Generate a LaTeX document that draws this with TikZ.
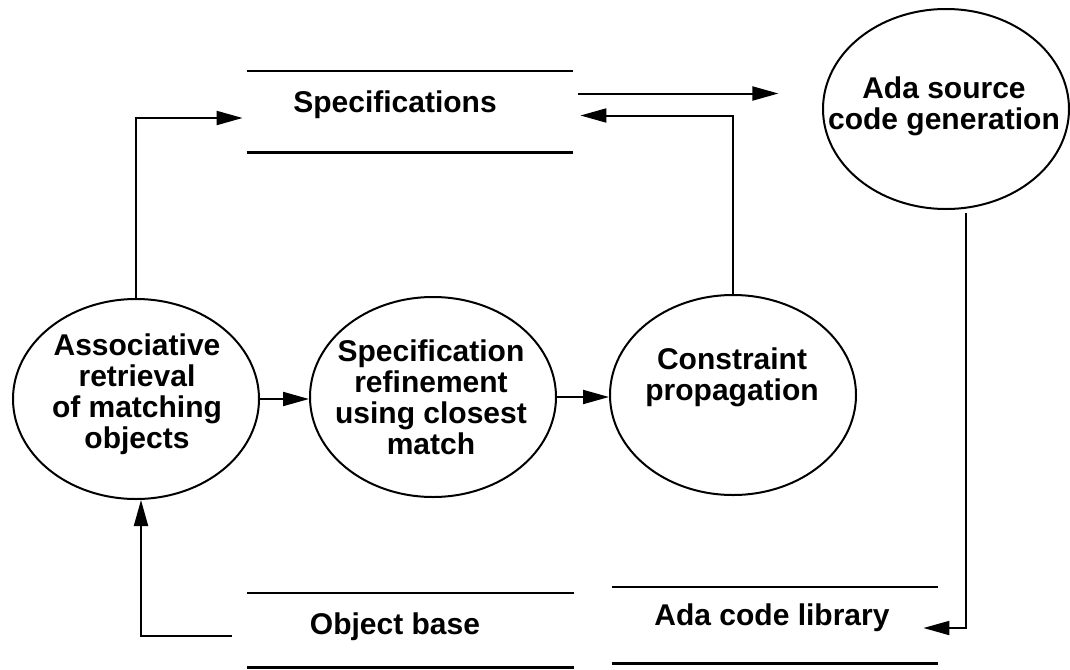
\documentclass[tikz,border=0pt]{standalone}
\usepackage{fontspec}
\setmainfont{Liberation Sans}
\usetikzlibrary{shapes.geometric,arrows.meta,calc}
\tikzset{
  proc/.style={draw=black, ellipse, line width=1pt, minimum width=123pt, minimum height=100pt, inner sep=0pt},
  store/.style={minimum width=163pt, minimum height=39pt, inner sep=0pt},
  txt/.style={align=center, inner sep=0pt, font=\fontsize{15}{15.5}\selectfont\bfseries},
  flow/.style={draw=black, line width=1pt, -{Triangle[length=13pt,width=7pt]}}
}
\begin{document}
\begin{tikzpicture}[x=0.5pt,y=-0.5pt]
						\useasboundingbox (0,0) rectangle (1070,669);
						% processes
						\begin{scope}[every node/.style={proc}]
							\node (assoc)  at (136,399) {};
							\node (refine) at (433,397) {};
							\node (constr) at (733,395) {};
							\node (ada)    at (946,109) {};
						\end{scope}
						% data stores
						\begin{scope}[every node/.style={store}]
							\node[minimum height=40.5pt] (spec) at (410,111.5) {};
							\node[minimum height=37pt]   (obj)  at (410.5,630) {};
							\node[minimum height=38pt]   (lib)  at (775,625) {};
						\end{scope}
						\foreach \s in {spec,obj,lib}
							\draw[line width=1.1pt] (\s.north west) -- (\s.north east) (\s.south west) -- (\s.south east);
						% labels
						\begin{scope}[every node/.style={txt}]
							\node (assoc-t)  at (137,394) {Associative\\retrieval\\of matching\\objects};
							\node (refine-t) at (431,397) {Specification\\refinement\\using closest\\match};
							\node (constr-t) at (732,377) {Constraint\\propagation};
							\node (ada-t)    at (944,106) {Ada source\\code generation};
							\node (spec-t)   at (395,105) {Specifications};
							\node (obj-t)    at (395,627) {Object base};
							\node (lib-t)    at (772,618) {Ada code library};
						\end{scope}
						% flows
						\begin{scope}[every edge/.style={flow}]
							\path (assoc.east) edge (assoc.east -| refine.west);
							\path (refine.east) edge (refine.east -| constr.west);
							\path ($(spec.east)+(5,-18)$) edge ($(spec.east)+(205,-18)$);
						\end{scope}
						\draw[flow] (assoc.north) |- ($(spec.west)+(-4,6.5)$);
						\draw[flow] (constr.north) |- ($(spec.east)+(7,4)$);
						\draw[flow] ($(ada.south)+(20,3)$) |- ($(lib.east)+(-15,3)$);
						\draw[flow] ($(obj.west)+(-15,6)$) -| ($(assoc.south)+(5,0)$);
					\end{tikzpicture}
\end{document}
